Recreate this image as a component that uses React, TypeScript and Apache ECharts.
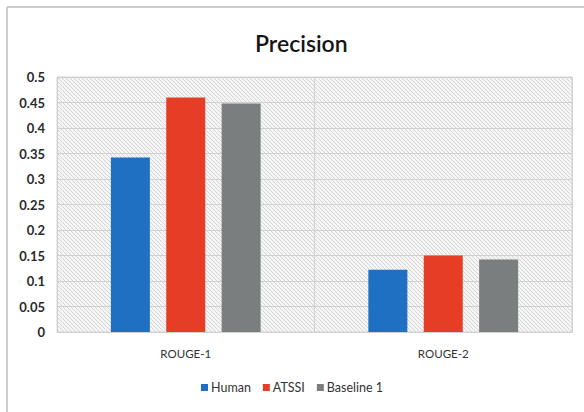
import React, { useEffect, useRef } from "react";
import * as echarts from "echarts";

const categories = ["ROUGE-1", "ROUGE-2"];
const human = [0.342, 0.122];
const atssi = [0.46, 0.15];
const baseline1 = [0.448, 0.142];
const seriesNames = ["Human", "ATSSI", "Baseline 1"];
const seriesColors = ["#1f6fc2", "#e63d27", "#7b7e7f"];

function makeHatch(): HTMLCanvasElement {
  const c = document.createElement("canvas");
  c.width = 4;
  c.height = 4;
  const ctx = c.getContext("2d")!;
  ctx.fillStyle = "#f5f5f5";
  ctx.fillRect(0, 0, 4, 4);
  ctx.fillStyle = "#d6d6d6";
  for (let i = 0; i < 4; i++) ctx.fillRect(i, i, 1, 1);
  return c;
}

export default function App() {
  const ref = useRef<HTMLDivElement>(null);
  useEffect(() => {
    const chart = echarts.init(ref.current!, undefined, { renderer: "svg" });
    const font = "Lato, 'Open Sans', sans-serif";
    const values = [human, atssi, baseline1];
    chart.setOption({
      animation: false,
      backgroundColor: "#ffffff",
      title: {
        text: "Precision",
        left: 250,
        top: 26,
        textStyle: { fontFamily: font, fontSize: 23, fontWeight: 600, color: "#151515" },
      },
      legend: {
        data: seriesNames,
        top: 376,
        left: "center",
        icon: "rect",
        itemWidth: 7,
        itemHeight: 7,
        itemGap: 12,
        textStyle: { fontFamily: font, fontSize: 12.5, color: "#333", padding: [0, 0, 0, -2] },
      },
      grid: {
        left: 57,
        right: 12,
        top: 77,
        bottom: 80,
        show: true,
        borderWidth: 1,
        borderColor: "#d6d6d6",
        backgroundColor: { image: makeHatch(), repeat: "repeat" },
      },
      xAxis: {
        type: "category",
        data: categories,
        axisTick: { show: false },
        axisLine: { lineStyle: { color: "#d0d0d0" } },
        axisLabel: { fontFamily: font, fontSize: 11.5, color: "#333", margin: 15 },
        splitLine: { show: true, lineStyle: { color: "#d0d0d0" } },
      },
      yAxis: {
        type: "value",
        min: 0,
        max: 0.5,
        interval: 0.05,
        axisLine: { show: false },
        axisTick: { show: false },
        axisLabel: { fontFamily: font, fontSize: 13, fontWeight: "bold", color: "#2a2a2a", margin: 12 },
        splitLine: { lineStyle: { color: "#d0d0d0" } },
      },
      series: seriesNames.map((name, i) => ({
        name,
        type: "bar",
        data: values[i],
        barWidth: 39,
        barGap: "42%",
        itemStyle: { color: seriesColors[i] },
      })),
      graphic: [
        { type: "line", shape: { x1: 7, y1: 7, x2: 584, y2: 7 }, style: { stroke: "#bdbdbd", lineWidth: 1.5 } },
        { type: "line", shape: { x1: 7, y1: 7, x2: 7, y2: 412 }, style: { stroke: "#bdbdbd", lineWidth: 1.5 } },
      ],
    });
    return () => chart.dispose();
  }, []);
  return (
    <div
      ref={ref}
      style={{ position: "absolute", left: 0, top: 0, width: 584, height: 412 }}
    />
  );
}
